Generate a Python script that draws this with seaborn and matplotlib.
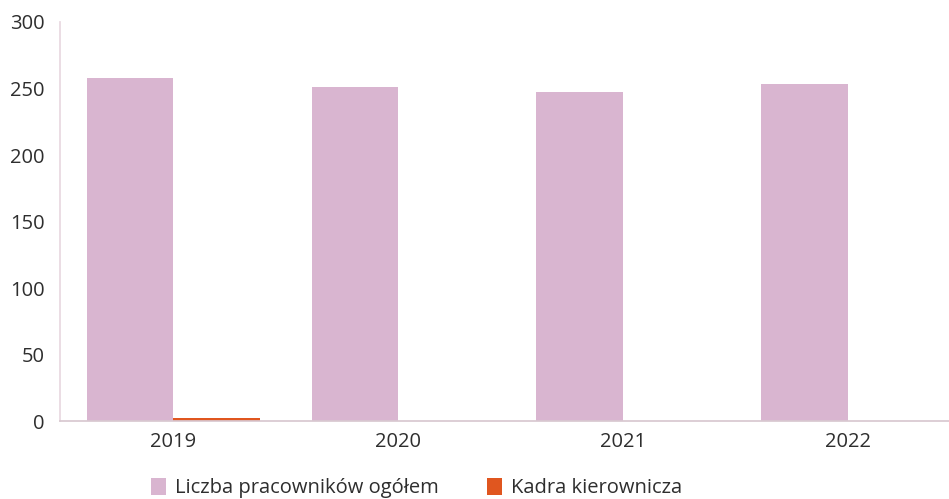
import matplotlib

matplotlib.use("Agg")
import matplotlib.pyplot as plt
import pandas as pd
import seaborn as sns

YEARS = ["2019", "2020", "2021", "2022"]
TOTAL_STAFF = [258, 251, 247, 253]
MANAGEMENT = [2, 0, 0, 0]
SERIES = ["Liczba pracowników ogółem", "Kadra kierownicza"]
COLORS = {"Liczba pracowników ogółem": "#d9b5d0", "Kadra kierownicza": "#e0561f"}


def main():
    sns.set_theme(style="white")
    plt.rcParams["font.family"] = ["Open Sans", "DejaVu Sans"]

    df = pd.DataFrame({
        "year": YEARS * 2,
        "value": TOTAL_STAFF + MANAGEMENT,
        "series": [SERIES[0]] * len(YEARS) + [SERIES[1]] * len(YEARS),
    })

    fig = plt.figure(figsize=(9.49, 4.99), dpi=100)
    ax = fig.add_axes([0.063, 0.156, 0.937, 0.8])
    sns.barplot(
        data=df,
        x="year",
        y="value",
        hue="series",
        order=YEARS,
        hue_order=SERIES,
        palette=COLORS,
        width=0.77,
        saturation=1,
        linewidth=0,
        ax=ax,
    )

    ax.set_ylim(0, 300)
    ax.set_xlim(-0.505, 3.45)
    ax.set_yticks([0, 50, 100, 150, 200, 250, 300])
    ax.set_xlabel("")
    ax.set_ylabel("")
    ax.tick_params(axis="both", length=0, labelsize=14.5, colors="#2e2e2e")
    ax.tick_params(axis="x", pad=8)
    ax.tick_params(axis="y", pad=11)
    for side in ["top", "right"]:
        ax.spines[side].set_visible(False)
    ax.spines["left"].set_color("#e8d8e0")
    ax.spines["bottom"].set_color("#d8c8d0")

    handles, labels = ax.get_legend_handles_labels()
    ax.legend_.remove()
    fig.legend(
        handles,
        labels,
        loc="lower left",
        bbox_to_anchor=(0.14, -0.035),
        ncol=2,
        frameon=False,
        fontsize=14.5,
        handlelength=0.75,
        handleheight=0.9,
        handletextpad=0.45,
        columnspacing=2.4,
        labelcolor="#2e2e2e",
    )
    fig.savefig("out.png", dpi=100)
    plt.close(fig)


if __name__ == "__main__":
    main()
